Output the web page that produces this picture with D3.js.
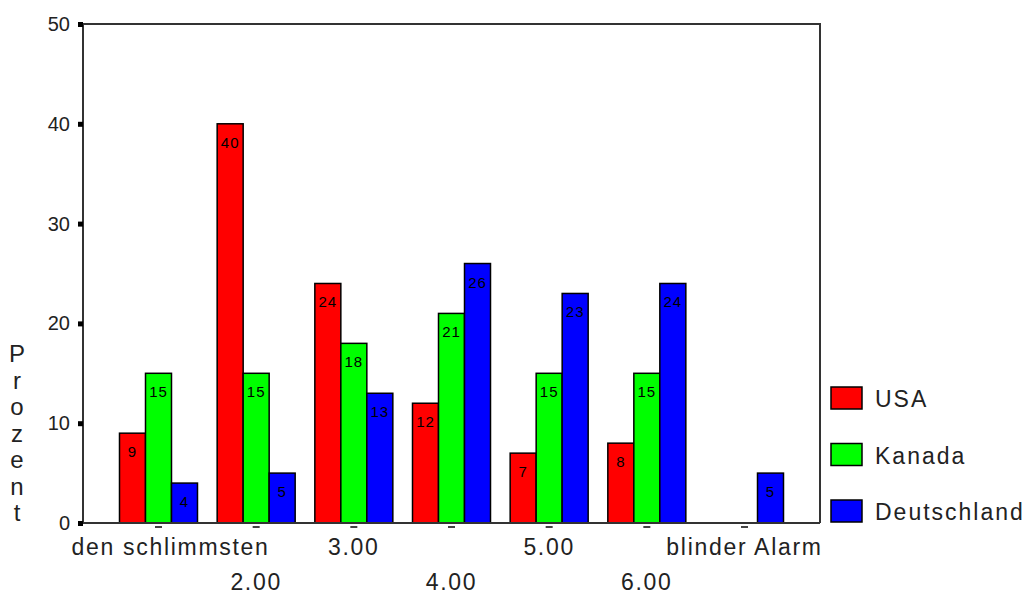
<!DOCTYPE html>
<html>
<head>
<meta charset="utf-8">
<script src="https://cdn.jsdelivr.net/npm/d3@7"></script>
<style>
  html, body { margin: 0; padding: 0; background: #fff; }
  svg { display: block; font-family: "Liberation Sans", Arial, sans-serif; }
</style>
</head>
<body>
<svg id="chart" width="1027" height="595"></svg>
<script>
// Rating categories on the x axis
const categories = ["den schlimmsten", "2.00", "3.00", "4.00", "5.00", "6.00", "blinder Alarm"];
// Countries (series)
const seriesNames = ["USA", "Kanada", "Deutschland"];
const seriesColors = ["#ff0000", "#00ff00", "#0000ff"];
// Percent per category, one array per country
const usa = [9, 40, 24, 12, 7, 8, 0];
const kanada = [15, 15, 18, 21, 15, 15, 0];
const deutschland = [4, 5, 13, 26, 23, 24, 5];
const yTicks = [0, 10, 20, 30, 40, 50];
const yTitle = "Prozent";

const seriesValues = [usa, kanada, deutschland];

const svg = d3.select("#chart");
const plot = { left: 83, right: 820, top: 24, bottom: 523 };

const x0 = d3.scalePoint()
  .domain(categories)
  .range([plot.left, plot.right])
  .padding(0.773);

const x1 = d3.scaleBand()
  .domain(seriesNames)
  .range([-39, 39]);

const y = d3.scaleLinear()
  .domain([0, 50])
  .range([plot.bottom, plot.top]);

// Plot frame (top and right edges)
svg.append("path")
  .attr("d", `M${plot.left},${plot.top}H${plot.right}V${plot.bottom}`)
  .attr("fill", "none")
  .attr("stroke", "#333")
  .attr("stroke-width", 2);

// Bars
const groups = svg.append("g").selectAll("g")
  .data(categories)
  .join("g")
  .attr("transform", d => `translate(${x0(d)},0)`);

const cells = groups.selectAll("g")
  .data((c, ci) => seriesNames.map((s, si) => ({ s, si, v: seriesValues[si][ci] })))
  .join("g")
  .filter(d => d.v > 0);

cells.append("rect")
  .attr("x", d => x1(d.s))
  .attr("y", d => y(d.v))
  .attr("width", x1.bandwidth())
  .attr("height", d => y(0) - y(d.v))
  .attr("fill", d => seriesColors[d.si])
  .attr("stroke", "#000")
  .attr("stroke-width", 1.5);

cells.append("text")
  .attr("x", d => x1(d.s) + x1.bandwidth() / 2)
  .attr("y", d => y(d.v) + 24)
  .attr("text-anchor", "middle")
  .attr("font-size", 15)
  .attr("letter-spacing", 1)
  .attr("fill", "#000")
  .text(d => d.v);

// Small category tick marks below the baseline
svg.append("g").selectAll("rect")
  .data(categories)
  .join("rect")
  .attr("x", d => x0(d) - 3.5)
  .attr("y", plot.bottom + 3)
  .attr("width", 7)
  .attr("height", 2)
  .attr("fill", "#444");

// Left axis and bottom baseline
svg.append("path")
  .attr("d", `M${plot.left},${plot.top}V${plot.bottom}H${plot.right}`)
  .attr("fill", "none")
  .attr("stroke", "#333")
  .attr("stroke-width", 2);

// Y axis ticks and labels
const yAxis = d3.axisLeft(y).tickValues(yTicks).tickSize(0).tickPadding(13);
const yg = svg.append("g")
  .attr("transform", `translate(${plot.left},0)`)
  .call(yAxis);
yg.select(".domain").remove();
yg.selectAll("text")
  .attr("font-size", 20)
  .attr("font-family", "Liberation Sans, Arial, sans-serif")
  .attr("fill", "#222");
yg.selectAll(".tick").append("rect")
  .attr("x", -5)
  .attr("y", -2.5)
  .attr("width", 5)
  .attr("height", 5)
  .attr("fill", "#000");

// X axis labels, staggered on two rows
svg.append("g").selectAll("text")
  .data(categories)
  .join("text")
  .attr("x", (d, i) => x0(d) + (i === 0 ? 12 : 0))
  .attr("y", (d, i) => i % 2 === 0 ? 555 : 590)
  .attr("text-anchor", "middle")
  .attr("font-size", 23)
  .attr("letter-spacing", 1.7)
  .attr("fill", "#222")
  .text(d => d);

// Y axis title, letters stacked vertically
svg.append("g").selectAll("text")
  .data(yTitle.split(""))
  .join("text")
  .attr("x", 17)
  .attr("y", (d, i) => 362 + i * 26.5)
  .attr("text-anchor", "middle")
  .attr("font-size", 24)
  .attr("fill", "#222")
  .text(d => d);

// Legend
const legend = svg.append("g").selectAll("g")
  .data(seriesNames)
  .join("g")
  .attr("transform", (d, i) => `translate(831,${387 + i * 56.5})`);
legend.append("rect")
  .attr("width", 31)
  .attr("height", 22)
  .attr("fill", (d, i) => seriesColors[i])
  .attr("stroke", "#000")
  .attr("stroke-width", 1.5);
legend.append("text")
  .attr("x", 44)
  .attr("y", 20)
  .attr("font-size", 23)
  .attr("letter-spacing", 2)
  .attr("fill", "#222")
  .text(d => d);
</script>
</body>
</html>
